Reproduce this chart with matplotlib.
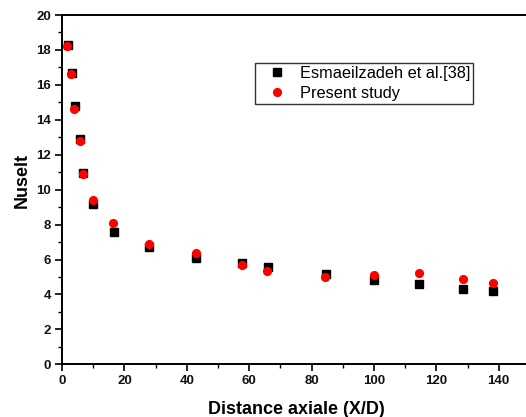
import numpy as np
import matplotlib
matplotlib.use("Agg")
import matplotlib.pyplot as plt

plt.rcParams['font.family'] = ['Liberation Sans', 'DejaVu Sans']

# Nusselt le long du tube : reference et calcul present
x_ref = [1.8, 3.3, 4.1, 5.9, 6.6, 9.8, 16.6, 27.9, 42.9, 57.6, 66.0, 84.5, 99.9, 114.3, 128.6, 138.1]
nu_ref = [18.3, 16.7, 14.8, 12.9, 10.95, 9.19, 7.56, 6.74, 6.11, 5.82, 5.56, 5.17, 4.83, 4.62, 4.32, 4.22]

x_pre = [1.7, 3.0, 3.9, 5.7, 6.6, 9.8, 16.4, 27.9, 42.9, 57.7, 65.8, 84.4, 100.1, 114.3, 128.6, 138.1]
nu_pre = [18.24, 16.64, 14.6, 12.8, 10.87, 9.41, 8.1, 6.88, 6.38, 5.69, 5.35, 4.98, 5.12, 5.25, 4.89, 4.68]

fig = plt.figure(figsize=(5.26, 4.17), dpi=100)
ax = fig.add_axes([0.1179, 0.1264, 0.8895, 0.8376])

ax.plot(x_ref, nu_ref, 's', color='black', markersize=5.8, label='Esmaeilzadeh et al.[38]')
ax.plot(x_pre, nu_pre, 'o', color='red', markersize=6.6, markeredgewidth=0, label='Present study')

ax.set_xlim(0, 150)
ax.set_ylim(0, 20)
ax.set_xticks(np.arange(0, 141, 20))
ax.set_xticks(np.arange(10, 151, 20), minor=True)
ax.set_yticks(np.arange(0, 21, 2))
ax.set_yticks(np.arange(1, 20, 2), minor=True)

for s in ax.spines.values():
    s.set_linewidth(1.4)
ax.tick_params(which='major', direction='out', length=5, width=1.2, labelsize=9.5, pad=3)
ax.tick_params(which='minor', direction='out', length=3, width=1.0)
for lab in ax.get_xticklabels() + ax.get_yticklabels():
    lab.set_fontweight('bold')
    lab.set_color('#111111')

ax.set_xlabel('Distance axiale (X/D)', fontsize=13, fontweight='bold', labelpad=10)
ax.set_ylabel('Nuselt', fontsize=13, fontweight='bold')
ax.yaxis.set_label_coords(-0.066, 0.525)

leg = ax.legend(loc='upper left', bbox_to_anchor=(0.412, 0.863), borderaxespad=0,
                fontsize=11.8, frameon=True, fancybox=False, handlelength=2.26,
                handletextpad=0.27, borderpad=0.2, labelspacing=0.27, numpoints=1)
leg.get_frame().set_edgecolor('black')
leg.get_frame().set_linewidth(1.0)

fig.savefig('out.png', dpi=100)
